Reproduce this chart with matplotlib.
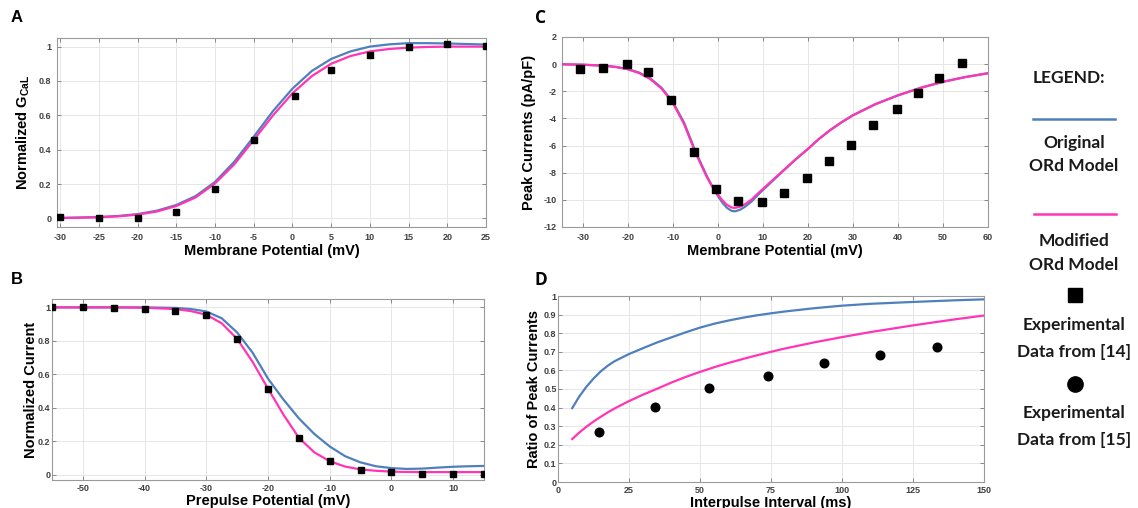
import matplotlib
matplotlib.use("Agg")
import matplotlib.pyplot as plt

plt.rcParams['font.family'] = ['Liberation Sans', 'DejaVu Sans']
plt.rcParams['mathtext.fontset'] = 'custom'
plt.rcParams['mathtext.rm'] = 'Liberation Sans:bold'
plt.rcParams['mathtext.it'] = 'Liberation Sans:bold'
plt.rcParams['mathtext.bf'] = 'Liberation Sans:bold'

BLUE = '#4f80bd'
PINK = '#ff35b5'

# ---------------- Panel A: activation ----------------
a_exp_v = [-30, -25, -20, -15, -10, -5, 0.3, 5, 10, 15, 20, 25]
a_exp_g = [0.01, 0.003, 0.003, 0.035, 0.17, 0.455, 0.715, 0.865, 0.95, 0.995, 1.015, 1.005]
a_curve_v = [-30, -27.5, -25, -22.5, -20, -17.5, -15, -12.5, -10, -7.5, -5, -2.5, 0,
             2.5, 5, 7.5, 10, 12.5, 15, 17.5, 20, 22.5, 25]
a_orig = [0.003, 0.005, 0.008, 0.014, 0.025, 0.045, 0.078, 0.13, 0.212, 0.33, 0.475, 0.625, 0.755,
          0.858, 0.928, 0.972, 1.0, 1.013, 1.02, 1.02, 1.018, 1.015, 1.012]
a_mod = [0.002, 0.004, 0.007, 0.012, 0.022, 0.04, 0.072, 0.122, 0.203, 0.315, 0.456, 0.6, 0.728,
         0.828, 0.9, 0.945, 0.972, 0.986, 0.994, 0.998, 1.0, 1.0, 1.0]

# ---------------- Panel B: inactivation ----------------
b_exp_v = [-55, -50, -45, -40, -35, -30, -25, -20, -15, -10, -5, 0, 5, 10, 15]
b_exp_i = [1.0, 1.0, 0.995, 0.99, 0.98, 0.955, 0.812, 0.515, 0.222, 0.082, 0.03, 0.016, 0.008, 0.008, 0.008]
b_curve_v = [-55, -50, -45, -40, -35, -32.5, -30, -27.5, -25, -22.5, -20, -17.5, -15, -12.5,
             -10, -7.5, -5, -2.5, 0, 2.5, 5, 7.5, 10, 12.5, 15]
b_orig = [1.0, 1.0, 1.0, 1.0, 0.997, 0.99, 0.976, 0.935, 0.85, 0.73, 0.575, 0.45, 0.338, 0.245,
          0.17, 0.112, 0.075, 0.052, 0.041, 0.036, 0.038, 0.044, 0.049, 0.052, 0.054]
b_mod = [1.0, 1.0, 1.0, 0.998, 0.99, 0.978, 0.956, 0.905, 0.812, 0.675, 0.515, 0.36, 0.222, 0.135,
         0.082, 0.05, 0.033, 0.025, 0.02, 0.018, 0.017, 0.017, 0.017, 0.017, 0.017]

# ---------------- Panel C: I-V ----------------
c_exp_v = [-30.5, -25.5, -20.2, -15.5, -10.5, -5.2, -0.3, 4.5, 9.8, 14.6, 19.9, 24.8, 29.6, 34.5,
           39.8, 44.4, 49.2, 54.3]
c_exp_i = [-0.35, -0.27, 0.0, -0.6, -2.66, -6.45, -9.2, -10.1, -10.15, -9.47, -8.4, -7.16, -5.93,
           -4.47, -3.29, -2.13, -1.04, 0.07]
c_curve_v = [-35, -30, -25, -22.5, -20, -17.5, -15, -12.5, -10, -7.5, -5, -2.5, -1.5, 0, 1, 2, 3,
             3.5, 4, 5, 6, 7.5, 9, 10, 12.5, 15, 17.5, 20, 22.5, 25, 27.5, 30, 35, 40, 45, 50, 55, 60]
c_orig = [-0.01, -0.04, -0.12, -0.21, -0.36, -0.62, -1.05, -1.74, -2.78, -4.3, -6.4, -8.2, -8.85,
          -9.7, -10.2, -10.58, -10.8, -10.84, -10.83, -10.72, -10.52, -10.12, -9.6, -9.28, -8.5,
          -7.72, -6.96, -6.25, -5.5, -4.85, -4.28, -3.77, -2.95, -2.3, -1.75, -1.3, -0.95, -0.67]
c_mod = [-0.01, -0.04, -0.12, -0.22, -0.38, -0.65, -1.1, -1.8, -2.85, -4.4, -6.5, -8.27, -8.87,
         -9.6, -10.03, -10.36, -10.55, -10.59, -10.58, -10.5, -10.33, -9.98, -9.5, -9.2, -8.45,
         -7.7, -6.95, -6.25, -5.5, -4.85, -4.28, -3.77, -2.95, -2.3, -1.75, -1.3, -0.95, -0.67]

# ---------------- Panel D: recovery ----------------
d_exp_t = [14.3, 34.2, 53.3, 73.8, 93.5, 113.5, 133.3]
d_exp_r = [0.267, 0.402, 0.504, 0.572, 0.639, 0.683, 0.725]
d_curve_t = [5, 7.5, 10, 12.5, 15, 17.5, 20, 25, 30, 35, 40, 45, 50, 55, 60, 65, 70, 75, 80, 90,
             100, 110, 125, 140, 150]
d_orig = [0.397, 0.46, 0.512, 0.556, 0.594, 0.625, 0.65, 0.688, 0.72, 0.751, 0.778, 0.805, 0.83,
          0.851, 0.868, 0.883, 0.896, 0.907, 0.917, 0.934, 0.948, 0.958, 0.968, 0.977, 0.982]
d_mod = [0.231, 0.266, 0.297, 0.325, 0.35, 0.374, 0.396, 0.435, 0.47, 0.502, 0.535, 0.565, 0.592,
         0.617, 0.64, 0.661, 0.681, 0.70, 0.718, 0.75, 0.779, 0.806, 0.842, 0.875, 0.895]

fig = plt.figure(figsize=(11.38, 5.08), dpi=100)


def style(ax, xlim, ylim, xticks, yticks):
    ax.set_xlim(*xlim)
    ax.set_ylim(*ylim)
    ax.set_xticks(xticks)
    ax.set_yticks(yticks)
    ax.set_xticklabels(['%g' % v for v in xticks], fontsize=6.5, fontweight='bold', color='#404040')
    ax.set_yticklabels(['%g' % v for v in yticks], fontsize=6.5, fontweight='bold', color='#404040')
    ax.tick_params(direction='in', length=3, width=0.7, color='#888888', top=True, right=True, pad=4)
    ax.grid(True, color='#e6e6e6', linewidth=0.7)
    ax.set_axisbelow(True)
    for s in ax.spines.values():
        s.set_color('#9a9a9a')
        s.set_linewidth(0.8)


lw = 1.6
ms_sq = 4.8
lab = dict(fontsize=10.5, fontweight='bold')

# A
axA = fig.add_axes([57/1138, 1-227/508, 429/1138, 189/508])
axA.plot(a_curve_v, a_orig, color=BLUE, lw=lw, zorder=3)
axA.plot(a_curve_v, a_mod, color=PINK, lw=lw, zorder=4)
axA.plot(a_exp_v, a_exp_g, 's', color='black', ms=ms_sq, zorder=5)
yt = [0, 0.2, 0.4, 0.6, 0.8, 1]
style(axA, (-30.4, 25), (-0.05, 1.05), list(range(-30, 26, 5)), yt)
axA.set_xlabel('Membrane Potential (mV)', labelpad=2, **lab)
axA.set_ylabel('Normalized G$_{CaL}$', labelpad=5, **lab)

# B
axB = fig.add_axes([52/1138, 1-480/508, 432/1138, 181/508])
axB.plot(b_curve_v, b_orig, color=BLUE, lw=lw, zorder=3)
axB.plot(b_curve_v, b_mod, color=PINK, lw=lw, zorder=4)
axB.plot(b_exp_v, b_exp_i, 's', color='black', ms=ms_sq, zorder=5)
style(axB, (-55, 15), (-0.03, 1.05), list(range(-50, 16, 10)), yt)
axB.tick_params(axis='y', pad=1)
axB.tick_params(axis='x', pad=3)
axB.set_xlabel('Prepulse Potential (mV)', labelpad=0.5, **lab)
axB.set_ylabel('Normalized Current', labelpad=0, **lab)

# C
axC = fig.add_axes([562/1138, 1-227/508, 426/1138, 190/508])
axC.plot(c_curve_v, c_orig, color=BLUE, lw=lw, zorder=3)
axC.plot(c_curve_v, c_mod, color=PINK, lw=lw, zorder=4)
axC.plot(c_exp_v, c_exp_i, 's', color='black', ms=ms_sq + 0.6, zorder=5)
style(axC, (-34.6, 60), (-12, 2), list(range(-30, 61, 10)), list(range(-12, 3, 2)))
axC.set_xlabel('Membrane Potential (mV)', labelpad=2, **lab)
axC.set_ylabel('Peak Currents (pA/pF)', labelpad=5, **lab)

# D
axD = fig.add_axes([558/1138, 1-482/508, 426/1138, 186/508])
axD.plot(d_curve_t, d_orig, color=BLUE, lw=lw, zorder=3)
axD.plot(d_curve_t, d_mod, color=PINK, lw=lw, zorder=4)
axD.plot(d_exp_t, d_exp_r, 'o', color='black', ms=6.2, zorder=5)
style(axD, (0, 150), (0, 1), [0, 25, 50, 75, 100, 125, 150], [round(0.1 * i, 1) for i in range(11)])
axD.tick_params(axis='y', pad=1)
axD.tick_params(axis='x', pad=3)
axD.set_xlabel('Interpulse Interval (ms)', labelpad=0.5, **lab)
axD.set_ylabel('Ratio of Peak Currents', labelpad=2, **lab)

# Panel letters
fig.text(11/1138, 1-18/508, 'A', fontsize=12, fontweight='bold', va='center')
fig.text(11/1138, 1-280/508, 'B', fontsize=12, fontweight='bold', va='center')
fig.text(535/1138, 1-18/508, 'C', fontsize=12.5, fontweight='bold', va='center', family='Open Sans')
fig.text(535/1138, 1-280/508, 'D', fontsize=12.5, fontweight='bold', va='center', family='Open Sans')

# Legend (drawn in pixel coordinates of a blank axes)
axL = fig.add_axes([1000/1138, 0, 138/1138, 1])
axL.set_xlim(1000, 1138)
axL.set_ylim(508, 0)
axL.axis('off')
lf = dict(fontsize=12.5, fontweight='bold', family='Lato', ha='center', va='center', color='#1a1a1a')
cx = 1074
axL.text(cx - 5, 78, 'LEGEND:', **lf)
axL.plot([1033, 1115], [119, 119], color=BLUE, lw=1.8)
axL.text(cx, 143, 'Original', **lf)
axL.text(cx, 166, 'ORd Model', **lf)
axL.plot([1034, 1116], [214, 214], color=PINK, lw=1.8)
axL.text(cx, 241, 'Modified', **lf)
axL.text(cx, 265, 'ORd Model', **lf)
axL.plot([cx + 1], [295], 's', color='black', ms=10)
axL.text(cx, 325, 'Experimental', **lf)
axL.text(cx, 352, 'Data from [14]', **lf)
axL.plot([cx + 1], [384], 'o', color='black', ms=11)
axL.text(cx, 413, 'Experimental', **lf)
axL.text(cx, 440, 'Data from [15]', **lf)

fig.savefig('out.png', dpi=100)
